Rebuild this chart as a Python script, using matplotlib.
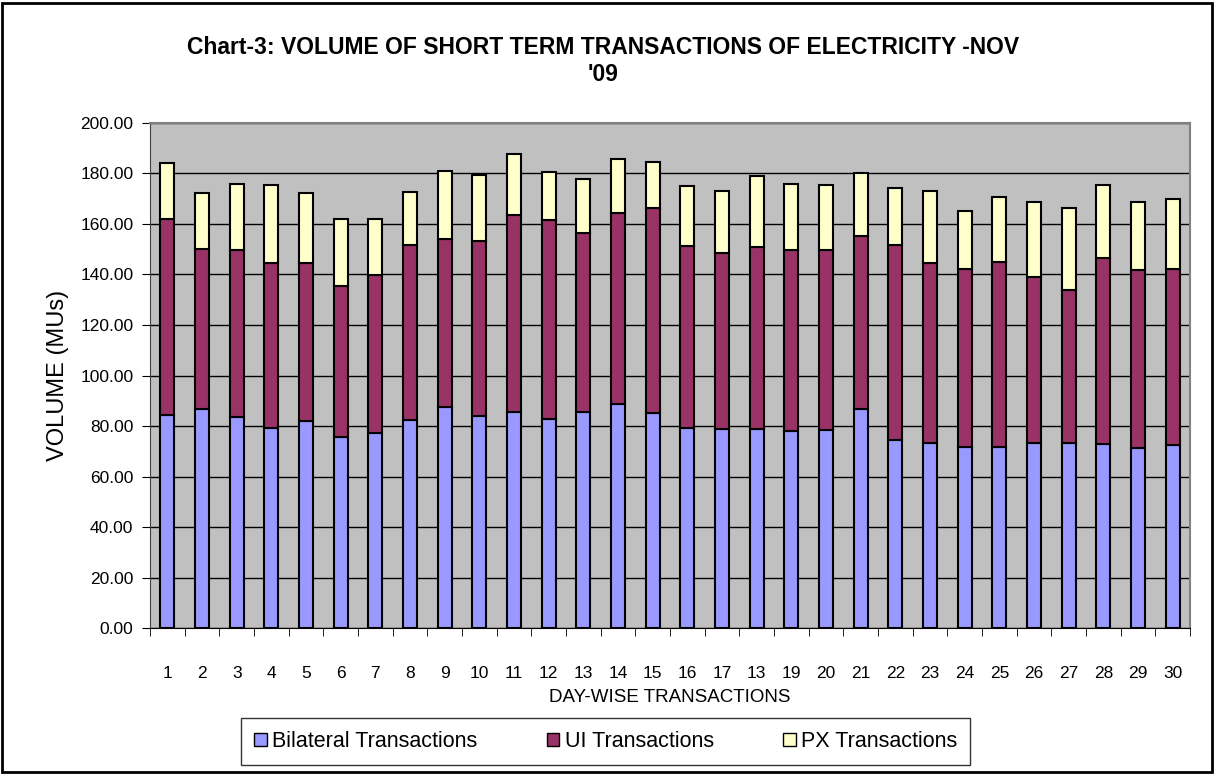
import matplotlib.pyplot as plt
from matplotlib.patches import Rectangle

plt.rcParams['font.family'] = ['Liberation Sans', 'DejaVu Sans']

days = [str(d) for d in range(1, 31)]
day_labels = days[:]
day_labels[17] = "13"  # printed that way in the source chart

bilateral = [84.4, 86.6, 83.4, 79.3, 82.0, 75.8, 77.4, 82.3, 87.7, 84.1,
             85.7, 82.9, 85.4, 88.6, 85.0, 79.3, 78.9, 78.9, 78.0, 78.4,
             86.7, 74.5, 73.4, 71.8, 71.8, 73.4, 73.4, 72.9, 71.2, 72.5]
ui_top = [162.0, 150.1, 149.6, 144.4, 144.4, 135.3, 139.8, 151.6, 154.1, 153.2,
          163.6, 161.5, 156.6, 164.5, 166.3, 151.4, 148.5, 151.0, 149.6, 149.6,
          155.2, 151.7, 144.4, 142.3, 145.0, 139.0, 133.7, 146.5, 141.8, 142.3]
total = [184.0, 172.4, 176.0, 175.4, 172.4, 162.1, 162.1, 172.8, 180.9, 179.4,
         187.6, 180.5, 177.8, 185.6, 184.6, 174.9, 172.9, 179.1, 176.0, 175.6,
         180.1, 174.4, 172.9, 165.3, 170.8, 168.8, 166.2, 175.6, 168.8, 169.8]

ui = [u - b for u, b in zip(ui_top, bilateral)]
px = [t - u for t, u in zip(total, ui_top)]

fig = plt.figure(figsize=(12.14, 7.74), dpi=100)
ax = fig.add_axes([0.1236, 0.1886, 0.8567, 0.6525])
ax.set_facecolor('#C0C0C0')

x = list(range(len(days)))
w = 0.4
ax.bar(x, bilateral, w, color='#9999FF', edgecolor='black', linewidth=1.5,
       label='Bilateral Transactions', zorder=3)
ax.bar(x, ui, w, bottom=bilateral, color='#993366', edgecolor='black',
       linewidth=1.5, label='UI Transactions', zorder=3)
ax.bar(x, px, w, bottom=ui_top, color='#FFFFCC', edgecolor='black',
       linewidth=1.5, label='PX Transactions', zorder=3)

ax.set_xlim(-0.5, len(days) - 0.5)
ax.set_ylim(0, 200)
ax.set_yticks(range(0, 201, 20))
ax.set_yticklabels([f"{v:.2f}" for v in range(0, 201, 20)], fontsize=12.5)
ax.yaxis.grid(True, color='black', linewidth=1, zorder=1)
ax.set_axisbelow(True)

ax.set_xticks(x)
ax.set_xticklabels(day_labels, fontsize=12.5)
ax.tick_params(axis='x', length=0, pad=27)
ax.set_xticks([i - 0.5 for i in range(len(days) + 1)], minor=True)
ax.tick_params(axis='x', which='minor', length=6, direction='out', color='black')
ax.tick_params(axis='y', length=6, direction='out', pad=6)

for side in ['top', 'right']:
    ax.spines[side].set_color('#808080')
    ax.spines[side].set_linewidth(1.5)
ax.spines['left'].set_color('#404040')
ax.spines['bottom'].set_color('black')

ax.set_ylabel('VOLUME (MUs)', fontsize=17, labelpad=8)
ax.set_xlabel('DAY-WISE TRANSACTIONS', fontsize=13.5, labelpad=6)

fig.text(0.497, 0.921, "Chart-3: VOLUME OF SHORT TERM TRANSACTIONS OF ELECTRICITY -NOV\n'09",
         ha='center', va='center', fontsize=16.5, fontweight='bold', linespacing=1.25)

leg = fig.legend(loc='center', bbox_to_anchor=(0.499, 0.042), ncol=3,
                 fontsize=15.5, frameon=True, fancybox=False, edgecolor='black',
                 handlelength=0.6, handleheight=0.6, handletextpad=0.25,
                 columnspacing=3.2, borderpad=0.6, borderaxespad=0)
leg.get_frame().set_linewidth(1.0)
for h in leg.legend_handles:
    h.set_linewidth(1.0)

fig.patches.append(Rectangle((0.002, 0.002), 0.996, 0.994, transform=fig.transFigure,
                             fill=False, edgecolor='black', linewidth=2))

fig.savefig('out.png', dpi=100)
